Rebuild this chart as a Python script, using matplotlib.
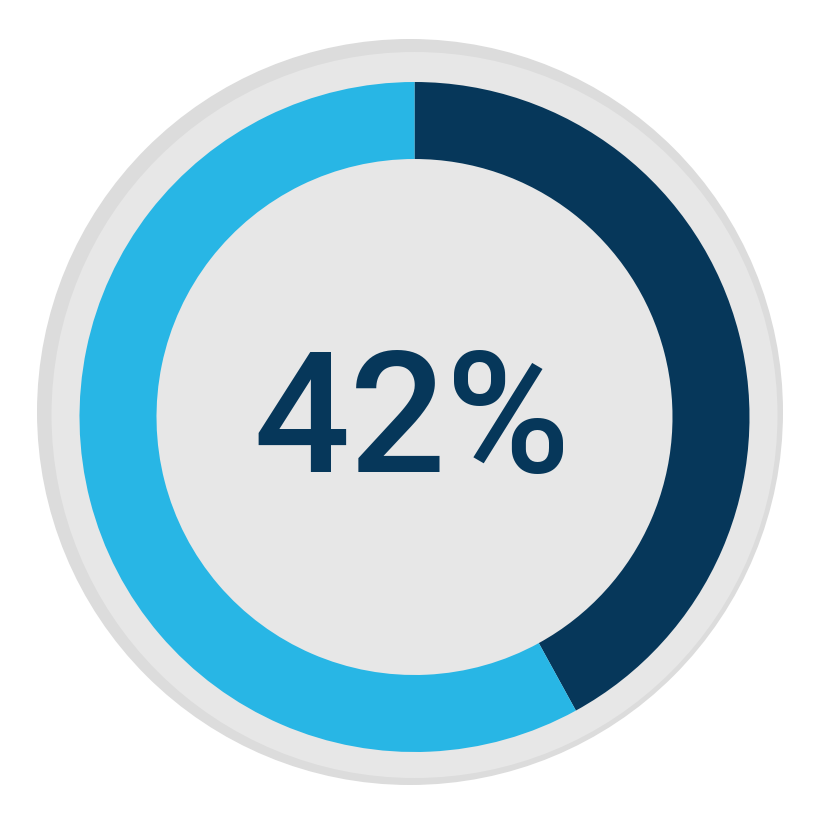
import matplotlib
matplotlib.use('Agg')
import matplotlib.pyplot as plt
from matplotlib.patches import Circle, Wedge

# Data
share = 42          # percent, dark segment
rest = 100 - share  # light segment
label = f"{share}%"

colors = {'share': '#06375a', 'rest': '#28b6e5',
          'face': '#e7e7e7', 'rim': '#dcdcdc', 'text': '#06375a'}

W = 834
fig = plt.figure(figsize=(W / 100, W / 100), dpi=100)
ax = fig.add_axes([0, 0, 1, 1])
ax.set_xlim(0, W)
ax.set_ylim(W, 0)
ax.set_aspect('equal')
ax.axis('off')

# background discs (rim shadow + face)
ax.add_patch(Circle((410, 412), 373, color=colors['rim'], lw=0))
ax.add_patch(Circle((414.5, 415), 363, color=colors['face'], lw=0))

# donut ring, clockwise from top (y axis inverted -> angles flip)
cx, cy, R, width = 414.5, 417, 335, 77
start = -90
split = start + 360 * share / 100
ax.add_patch(Wedge((cx, cy), R, start, split, width=width,
                   color=colors['share'], lw=0))
ax.add_patch(Wedge((cx, cy), R, split, start + 360, width=width,
                   color=colors['rest'], lw=0))

ax.text(412, 472, label, ha='center', va='baseline', fontsize=122,
        color=colors['text'], family='Roboto', weight='medium')

fig.savefig('out.png', dpi=100)
